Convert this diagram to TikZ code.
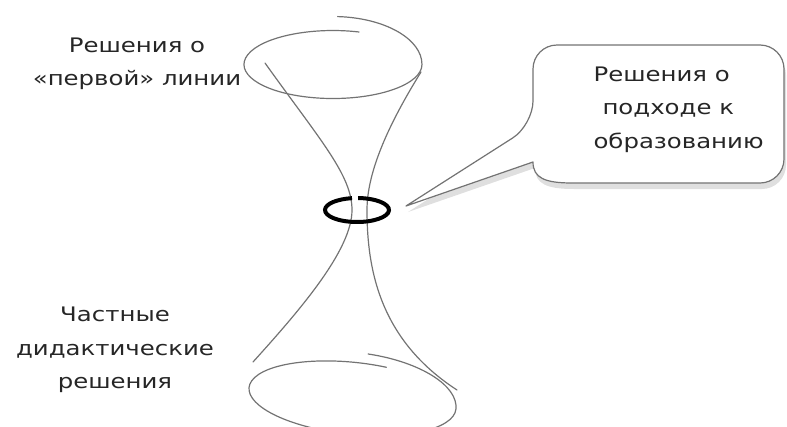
\documentclass[tikz,border=0pt]{standalone}
\usepackage{fontspec}
\setmainfont[FakeStretch=1.22]{DejaVu Sans}
\usetikzlibrary{shadows}

\begin{document}
\begin{tikzpicture}[x=1pt,y=-1pt]
    \tikzstyle{wire}=[draw=black!55, line width=1.2pt, line cap=round]
    \tikzstyle{label}=[align=center, font=\fontsize{20}{33.5}\selectfont, text=black!85]
    \tikzstyle{bubble}=[draw=black!55, line width=1.2pt, fill=white, line join=round,
                        drop shadow={shadow xshift=2pt, shadow yshift=-6pt, opacity=0.25}]
    \useasboundingbox (0,0) rectangle (787,426);

    % upper funnel rim, a spiral that overshoots its start
    \draw[wire] (359,32) arc[start angle=-73, end angle=-360, x radius=89, y radius=34]
                         arc[start angle=0, end angle=-87, x radius=89, y radius=48];
    % lower funnel rim, tilted
    \draw[wire, rotate around={-6:(354,388)}]
        (384,364) arc[start angle=-73, end angle=-360, x radius=104, y radius=36]
                  arc[start angle=0, end angle=-84, x radius=104, y radius=46];

    % the two curved sides through the waist
    \draw[wire] (265,63) .. controls (320,140) and (352,175) .. (352,210)
                         .. controls (352,250) and (300,310) .. (253,362);
    \draw[wire] (421,72) .. controls (385,130) and (367,175) .. (367,210)
                         .. controls (367,270) and (380,340) .. (457,390);

    % ring at the waist
    \node (ring) at (357,210) {};
    \draw[line width=4pt, black] (ring.center) ++(-88:32 and 12)
        arc[start angle=-88, end angle=261, x radius=32, y radius=12];
    \coordinate (tip) at (406,206);

    % speech bubble pointing at the ring
    \draw[bubble] (tip) -- (533,162) .. controls (533,178) and (545,183) .. (572,183)
                  [rounded corners=24pt] -- (784,183) -- (784,45) -- (533,45)
                  -- (533,125) [sharp corners] -- cycle;
    \node[label, align=left, anchor=north west] (approach) at (590,63)
        {Решения о\\\hspace{9pt}подходе к\\образованию};

    \node[label] (first) at (137,64) {Решения о\\«первой» линии};
    \node[label] (partial) at (115,350) {Частные\\дидактические\\решения};
\end{tikzpicture}
\end{document}
